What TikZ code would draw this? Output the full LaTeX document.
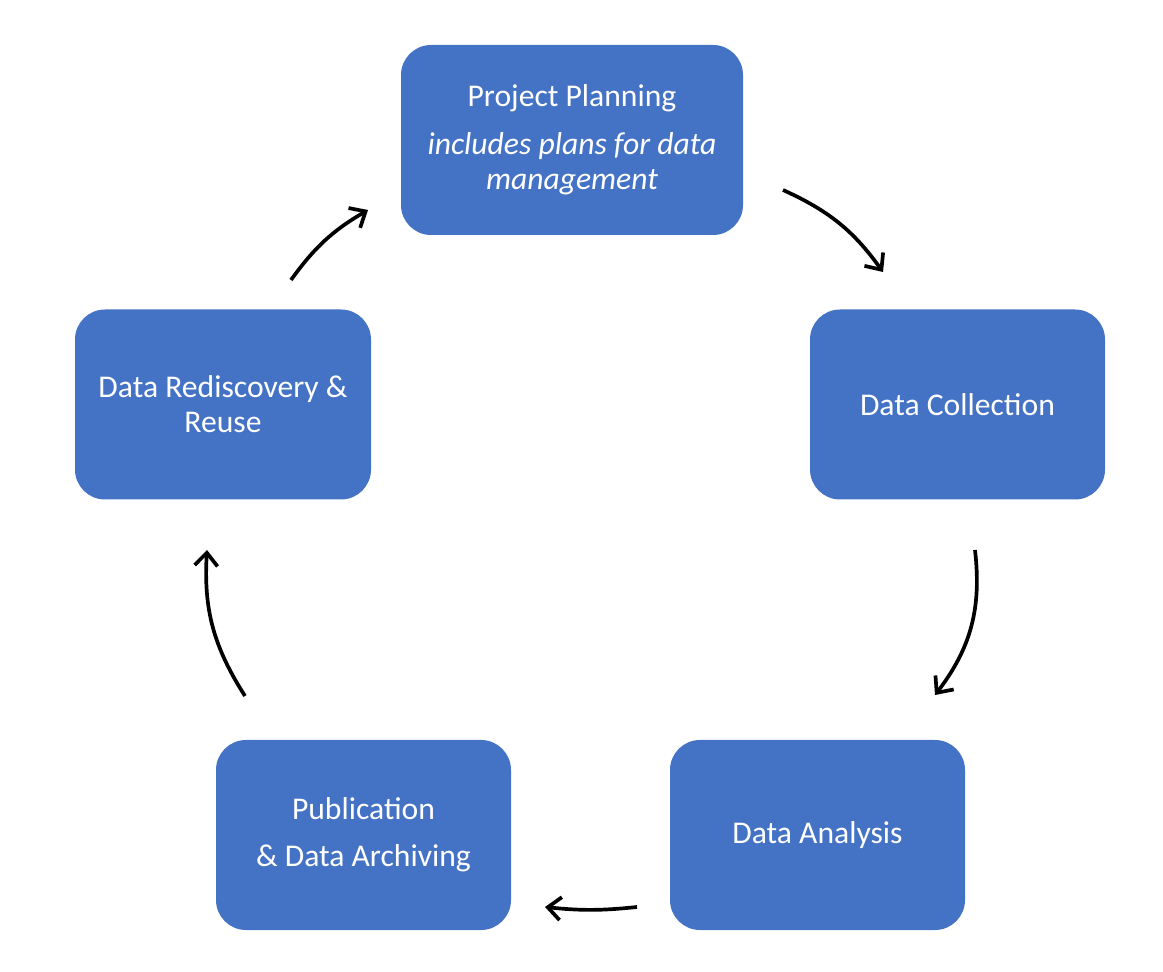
\documentclass[tikz,border=0pt]{standalone}
\usepackage{fontspec}
\setmainfont{Carlito}
\usepackage{xcolor}
\usepackage{tikz}
\usetikzlibrary{arrows.meta}
\definecolor{stageblue}{HTML}{4472C4}

\begin{document}
\begin{tikzpicture}
[stage/.style={rectangle,rounded corners=0.6cm,fill=stageblue,text=white,align=center,
  font=\fontsize{18}{20}\selectfont,minimum width=5.9cm,minimum height=3.8cm},
cycle/.style={-{Straight Barb[length=2.6mm,width=4.6mm,line width=2.1pt]},line width=2.1pt,black,bend left=22}]
\useasboundingbox (0,0) rectangle (23.26,-19.44);

\node at (11.44,-2.8)  [stage,minimum width=6.84cm] (plan) {Project Planning\\[7pt]
  \textit{includes plans for data}\\ \textit{management}};
\node at (19.15,-8.09) [stage] (coll) {Data Collection};
\node at (16.35,-16.7) [stage] (anal) {Data Analysis};
\node at (7.27,-16.7)  [stage] (publ) {Publication\\[7pt] \& Data Archiving};
\node at (4.46,-8.09)  [stage,minimum width=5.92cm] (reuse) {Data Rediscovery \&\\ Reuse};

\coordinate (planout) at (15.66,-3.8);
\coordinate (collin)  at (17.66,-5.44);
\coordinate (collout) at (19.5,-11.0);
\coordinate (analin)  at (18.7,-13.9);
\coordinate (analout) at (12.74,-18.14);
\coordinate (publin)  at (10.9,-18.14);
\coordinate (publout) at (4.9,-13.92);
\coordinate (reusein) at (4.14,-11.0);
\coordinate (reuseout) at (5.82,-5.6);
\coordinate (planin)  at (7.36,-4.2);

\draw [cycle,bend left=15] (planout) to (collin);
\draw [cycle] (collout) to (analin);
\draw [cycle,bend left=6] (analout) to (publin);
\draw [cycle,bend left=18] (publout) to (reusein);
\draw [cycle,bend left=12] (reuseout) to (planin);
\end{tikzpicture}
\end{document}
